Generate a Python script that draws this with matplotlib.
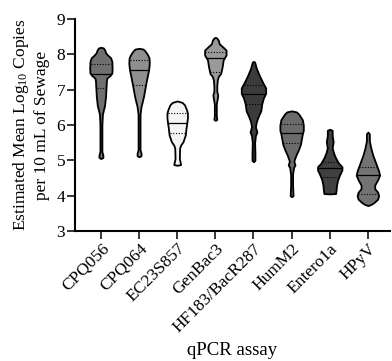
import numpy as np
import matplotlib
matplotlib.use("Agg")
import matplotlib.pyplot as plt

plt.rcParams['font.family'] = ['Liberation Serif', 'DejaVu Serif']
plt.rcParams['mathtext.fontset'] = 'custom'
plt.rcParams['mathtext.rm'] = 'Liberation Serif'
plt.rcParams['mathtext.it'] = 'Liberation Serif:italic'

assays = ["CPQ056", "CPQ064", "EC23S857", "GenBac3", "HF183/BacR287",
          "HumM2", "Entero1a", "HPyV"]
colors = ["#6f6f6f", "#8f8f8f", "#f4f4f4", "#9a9a9a", "#3b3b3b",
          "#6b6b6b", "#404040", "#737373"]

# density profiles (log10 value, relative density)
cpq056_y = [5.05, 5.08, 5.15, 5.25, 6.0, 6.3, 6.42, 6.55, 6.8, 7.05, 7.25, 7.33, 7.4, 7.47, 7.6, 7.8, 7.9, 7.98, 8.05, 8.12, 8.18, 8.2]
cpq056_d = [0, 2.0, 2.0, 1.0, 1.0, 1.5, 2.5, 3.7, 4.7, 5.2, 5.6, 6.2, 9.3, 11.2, 11.5, 11.2, 10.0, 6.9, 4.7, 4.0, 2.5, 0]
cpq064_y = [5.1, 5.13, 5.2, 5.3, 6.3, 6.52, 6.65, 6.8, 7.0, 7.18, 7.35, 7.56, 7.75, 7.9, 8.0, 8.1, 8.15, 8.17]
cpq064_d = [0, 2.0, 2.0, 1.0, 1.0, 2.0, 3.2, 4.5, 5.8, 7.0, 8.2, 9.8, 10.5, 10.2, 8.5, 6.0, 4.0, 0]
ec23_y = [4.86, 4.88, 4.95, 5.05, 5.35, 5.43, 5.53, 5.72, 5.9, 6.05, 6.2, 6.33, 6.42, 6.57, 6.64, 6.68]
ec23_d = [0, 3.5, 3.0, 2.2, 2.5, 3.5, 6.0, 8.3, 9.0, 9.8, 10.5, 10.5, 9.7, 7.5, 5.0, 0]
genbac_y = [6.13, 6.16, 6.25, 6.6, 6.75, 6.85, 6.95, 7.1, 7.27, 7.37, 7.46, 7.65, 7.84, 7.98, 8.12, 8.2, 8.3, 8.4, 8.46, 8.48]
genbac_d = [0, 1.5, 1.0, 1.0, 2.0, 2.5, 1.5, 1.5, 2.0, 3.0, 5.5, 7.0, 8.0, 11.0, 11.0, 8.0, 4.0, 3.0, 1.5, 0]
hf183_y = [4.96, 5.0, 5.2, 5.5, 5.7, 5.8, 5.95, 6.1, 6.25, 6.4, 6.6, 6.75, 6.9, 7.05, 7.2, 7.4, 7.6, 7.78, 7.8]
hf183_d = [0, 1.5, 1.5, 1.2, 2.0, 3.5, 2.0, 3.0, 5.0, 7.5, 8.5, 10.0, 12.5, 12.5, 9.5, 6.0, 3.0, 1.2, 0]
humm2_y = [3.97, 4.0, 4.3, 4.6, 4.8, 4.87, 4.95, 5.0, 5.15, 5.3, 5.45, 5.6, 5.75, 5.85, 6.0, 6.15, 6.3, 6.37, 6.4]
humm2_d = [0, 1.5, 1.0, 1.0, 2.0, 3.5, 2.5, 2.5, 4.5, 7.0, 9.0, 10.0, 11.0, 12.0, 12.0, 11.0, 7.5, 5.0, 0]
entero_y = [4.05, 4.06, 4.16, 4.3, 4.44, 4.58, 4.73, 4.82, 4.92, 5.07, 5.2, 5.35, 5.53, 5.7, 5.85, 5.88]
entero_d = [0, 6.0, 6.5, 7.0, 8.0, 10.0, 12.5, 12.5, 9.0, 6.0, 4.0, 2.5, 3.5, 2.5, 2.5, 0]
hpyv_y = [3.72, 3.75, 3.8, 3.9, 4.0, 4.1, 4.2, 4.3, 4.45, 4.58, 4.7, 4.85, 5.0, 5.15, 5.35, 5.55, 5.75, 5.8]
hpyv_d = [0, 3.0, 6.0, 10.0, 11.0, 10.0, 7.0, 7.0, 10.0, 12.0, 11.0, 9.0, 7.0, 5.0, 3.0, 1.5, 1.5, 0]

profiles_y = [cpq056_y, cpq064_y, ec23_y, genbac_y, hf183_y, humm2_y, entero_y, hpyv_y]
profiles_d = [cpq056_d, cpq064_d, ec23_d, genbac_d, hf183_d, humm2_d, entero_d, hpyv_d]

q1 = [7.04, 7.14, 5.76, 7.51, 6.59, 5.48, 4.54, 4.04]
medians = [7.45, 7.56, 6.05, 7.89, 6.88, 5.76, 4.77, 4.58]
q3 = [7.72, 7.84, 6.33, 8.07, 7.13, 6.02, 4.95, 4.82]

fig = plt.figure(figsize=(3.92, 3.61), dpi=100)
ax = fig.add_axes([0.1913, 0.3601, 0.8036, 0.5873])

scale = 0.32 / 12.5
for i in range(len(assays)):
    y = np.array(profiles_y[i])
    hw = np.array(profiles_d[i]) * scale
    ax.fill_betweenx(y, i - hw, i + hw, facecolor=colors[i], edgecolor='black',
                     linewidth=1.3, zorder=2)
    for q, ls, lw in [(q1[i], (0, (1, 1.5)), 0.8), (medians[i], '-', 0.9), (q3[i], (0, (1, 1.5)), 0.8)]:
        w = np.interp(q, y, hw) - 0.02
        if w > 0:
            ax.plot([i - w, i + w], [q, q], color='black', linestyle=ls, linewidth=lw, zorder=3)

ax.set_xlim(-0.68, 7.58)
ax.set_ylim(3, 9)
ax.set_yticks(range(3, 10))
ax.set_xticks(range(len(assays)))
ax.set_xticklabels(assays, rotation=45, ha='right', rotation_mode='anchor', fontsize=12.5)
ax.tick_params(axis='y', labelsize=12.5, length=6, width=1.1, pad=1)
ax.tick_params(axis='x', length=6, width=1.1, pad=1)
for s in ['top', 'right']:
    ax.spines[s].set_visible(False)
for s in ['left', 'bottom']:
    ax.spines[s].set_linewidth(1.5)

ax.set_ylabel("Estimated Mean Log$_{10}$ Copies\nper 10 mL of Sewage", fontsize=12.5, labelpad=5)
ax.set_xlabel("qPCR assay", fontsize=13.5)
ax.xaxis.set_label_coords(0.5, -0.525)

fig.savefig("out.png", dpi=100)
